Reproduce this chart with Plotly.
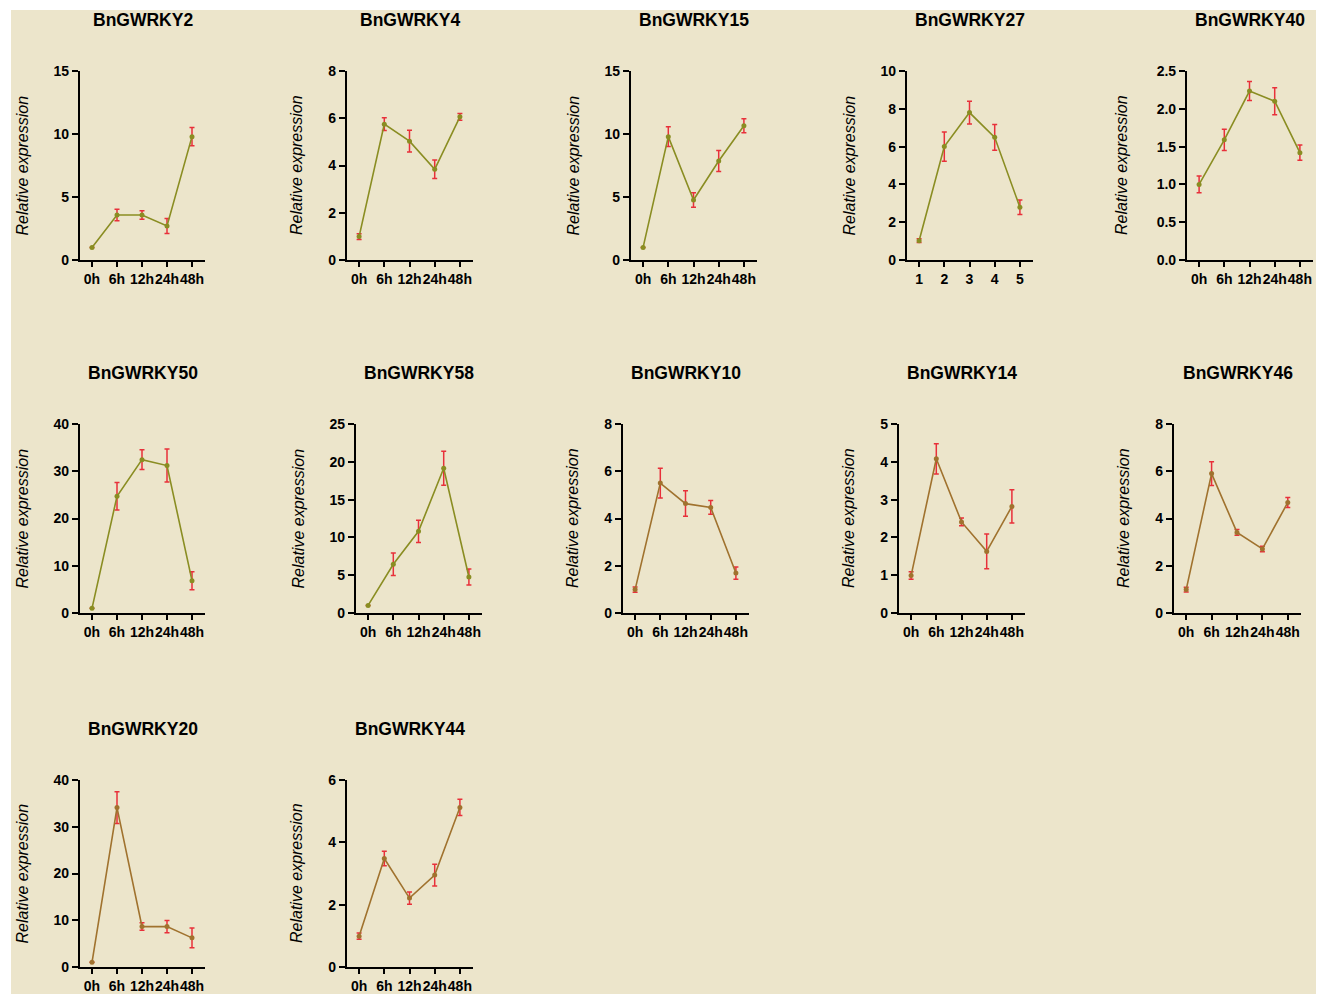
import plotly.graph_objects as go

W, H = 1331, 994

genes = ["BnGWRKY2", "BnGWRKY4", "BnGWRKY15", "BnGWRKY27", "BnGWRKY40",
         "BnGWRKY50", "BnGWRKY58", "BnGWRKY10", "BnGWRKY14", "BnGWRKY46",
         "BnGWRKY20", "BnGWRKY44"]

time_labels = ["0h", "6h", "12h", "24h", "48h"]
num_labels = ["1", "2", "3", "4", "5"]

values = {
    "BnGWRKY2":  [1.0, 3.57, 3.57, 2.70, 9.79],
    "BnGWRKY4":  [0.99, 5.75, 5.03, 3.84, 6.06],
    "BnGWRKY15": [1.0, 9.79, 4.76, 7.86, 10.66],
    "BnGWRKY27": [1.02, 6.0, 7.8, 6.49, 2.79],
    "BnGWRKY40": [1.0, 1.59, 2.235, 2.10, 1.42],
    "BnGWRKY50": [0.99, 24.7, 32.45, 31.2, 6.84],
    "BnGWRKY58": [1.0, 6.44, 10.8, 19.14, 4.76],
    "BnGWRKY10": [0.99, 5.5, 4.63, 4.47, 1.69],
    "BnGWRKY14": [0.99, 4.08, 2.41, 1.63, 2.82],
    "BnGWRKY46": [0.99, 5.9, 3.41, 2.71, 4.68],
    "BnGWRKY20": [1.0, 34.1, 8.64, 8.64, 6.23],
    "BnGWRKY44": [0.99, 3.48, 2.21, 2.95, 5.12],
}

errors = {
    "BnGWRKY2":  [0.0, 0.45, 0.33, 0.6, 0.72],
    "BnGWRKY4":  [0.12, 0.27, 0.46, 0.39, 0.14],
    "BnGWRKY15": [0.0, 0.78, 0.58, 0.83, 0.56],
    "BnGWRKY27": [0.1, 0.77, 0.6, 0.68, 0.38],
    "BnGWRKY40": [0.11, 0.14, 0.125, 0.18, 0.1],
    "BnGWRKY50": [0.0, 2.9, 2.1, 3.5, 1.9],
    "BnGWRKY58": [0.0, 1.48, 1.47, 2.25, 1.06],
    "BnGWRKY10": [0.11, 0.63, 0.54, 0.29, 0.26],
    "BnGWRKY14": [0.1, 0.4, 0.1, 0.46, 0.44],
    "BnGWRKY46": [0.1, 0.5, 0.12, 0.12, 0.21],
    "BnGWRKY20": [0.0, 3.4, 0.8, 1.3, 2.1],
    "BnGWRKY44": [0.1, 0.23, 0.2, 0.35, 0.26],
}

y_max = {
    "BnGWRKY2": 15, "BnGWRKY4": 8, "BnGWRKY15": 15, "BnGWRKY27": 10, "BnGWRKY40": 2.5,
    "BnGWRKY50": 40, "BnGWRKY58": 25, "BnGWRKY10": 8, "BnGWRKY14": 5, "BnGWRKY46": 8,
    "BnGWRKY20": 40, "BnGWRKY44": 6,
}
y_step = {
    "BnGWRKY2": 5, "BnGWRKY4": 2, "BnGWRKY15": 5, "BnGWRKY27": 2, "BnGWRKY40": 0.5,
    "BnGWRKY50": 10, "BnGWRKY58": 5, "BnGWRKY10": 2, "BnGWRKY14": 1, "BnGWRKY46": 2,
    "BnGWRKY20": 10, "BnGWRKY44": 2,
}

# layout (pixels): y-axis x position, axis width, row top/bottom
panel_x = [80, 347, 631, 907, 1187,
           80, 356, 623, 899, 1174,
           80, 347]
panel_w = [125, 126, 126, 126, 126,
           125, 126, 126, 126, 127,
           125, 126]
rows_px = [(71, 260, 20), (424, 613, 373), (780, 967, 729)]
panel_row = [0, 0, 0, 0, 0, 1, 1, 1, 1, 1, 2, 2]

OLIVE = "#8a8d22"
BROWN = "#a0722e"
RED = "#e8303a"
line_color = [OLIVE] * 7 + [BROWN] * 5

BG = "#ece5cb"
FONT = "Liberation Sans, Arial, sans-serif"

fig = go.Figure()
layout = {}
annotations = []

for i, g in enumerate(genes):
    n = i + 1
    xa = "x" if n == 1 else f"x{n}"
    ya = "y" if n == 1 else f"y{n}"
    x0 = panel_x[i]
    x1 = x0 + panel_w[i]
    top, bot, title_y = rows_px[panel_row[i]]
    labels = num_labels if g == "BnGWRKY27" else time_labels

    fig.add_trace(go.Scatter(
        x=list(range(5)), y=values[g],
        mode="lines+markers",
        line=dict(color=line_color[i], width=1.6),
        marker=dict(color=line_color[i], size=5),
        error_y=dict(type="data", array=errors[g], visible=True,
                     color=RED, thickness=1.5, width=2.5),
        xaxis=xa, yaxis=ya, showlegend=False, cliponaxis=False,
    ))

    step = y_step[g]
    nt = int(round(y_max[g] / step))
    tv = [k * step for k in range(nt + 1)]
    tt = [f"{v:.1f}" if step < 1 else f"{v:g}" for v in tv]

    layout[("xaxis" if n == 1 else f"xaxis{n}")] = dict(
        domain=[x0 / W, x1 / W], anchor=ya, automargin=False,
        range=[-0.48, 4.52], tickvals=list(range(5)), ticktext=labels,
        tickangle=0,
        showline=True, linecolor="black", linewidth=2.2,
        ticks="outside", ticklen=5, tickwidth=2, tickcolor="black",
        showgrid=False, zeroline=False, fixedrange=True,
        tickfont=dict(family=FONT, size=14, color="black", weight="bold"),
    )
    layout[("yaxis" if n == 1 else f"yaxis{n}")] = dict(
        domain=[1 - bot / H, 1 - top / H], anchor=xa, automargin=False,
        range=[0, y_max[g]], tickvals=tv, ticktext=tt,
        showline=True, linecolor="black", linewidth=2.2,
        ticks="outside", ticklen=6, tickwidth=2, tickcolor="black",
        showgrid=False, zeroline=False, fixedrange=True,
        tickfont=dict(family=FONT, size=14, color="black", weight="bold"),
    )

    # panel title
    annotations.append(dict(
        text=f"<b>{g}</b>", x=(x0 + x1) / 2 / W, y=1 - title_y / H,
        xref="paper", yref="paper", xanchor="center", yanchor="middle",
        showarrow=False, font=dict(family=FONT, size=17.5, color="black"),
    ))
    # y-axis title
    nchar = max(len(t) for t in tt)
    off = 43 + 7.5 * nchar
    annotations.append(dict(
        text="<i>Relative expression</i>", x=(x0 - off) / W, y=1 - (top + bot) / 2 / H,
        xref="paper", yref="paper", xanchor="center", yanchor="middle",
        textangle=-90, showarrow=False,
        font=dict(family=FONT, size=16, color="black"),
    ))

fig.update_layout(
    width=W, height=H,
    margin=dict(l=0, r=0, t=0, b=0, autoexpand=False),
    paper_bgcolor="white", plot_bgcolor="rgba(0,0,0,0)",
    annotations=annotations,
    shapes=[dict(type="rect", xref="paper", yref="paper", layer="below",
                 x0=11 / W, x1=1316 / W, y0=0, y1=1 - 10 / H,
                 fillcolor=BG, line=dict(width=0))],
    **layout,
)

fig.write_html(
    "out.html",
    config={"displayModeBar": False},
    post_script="document.body.style.margin='0';document.body.style.padding='0';"
                "document.documentElement.style.overflow='hidden';",
)
